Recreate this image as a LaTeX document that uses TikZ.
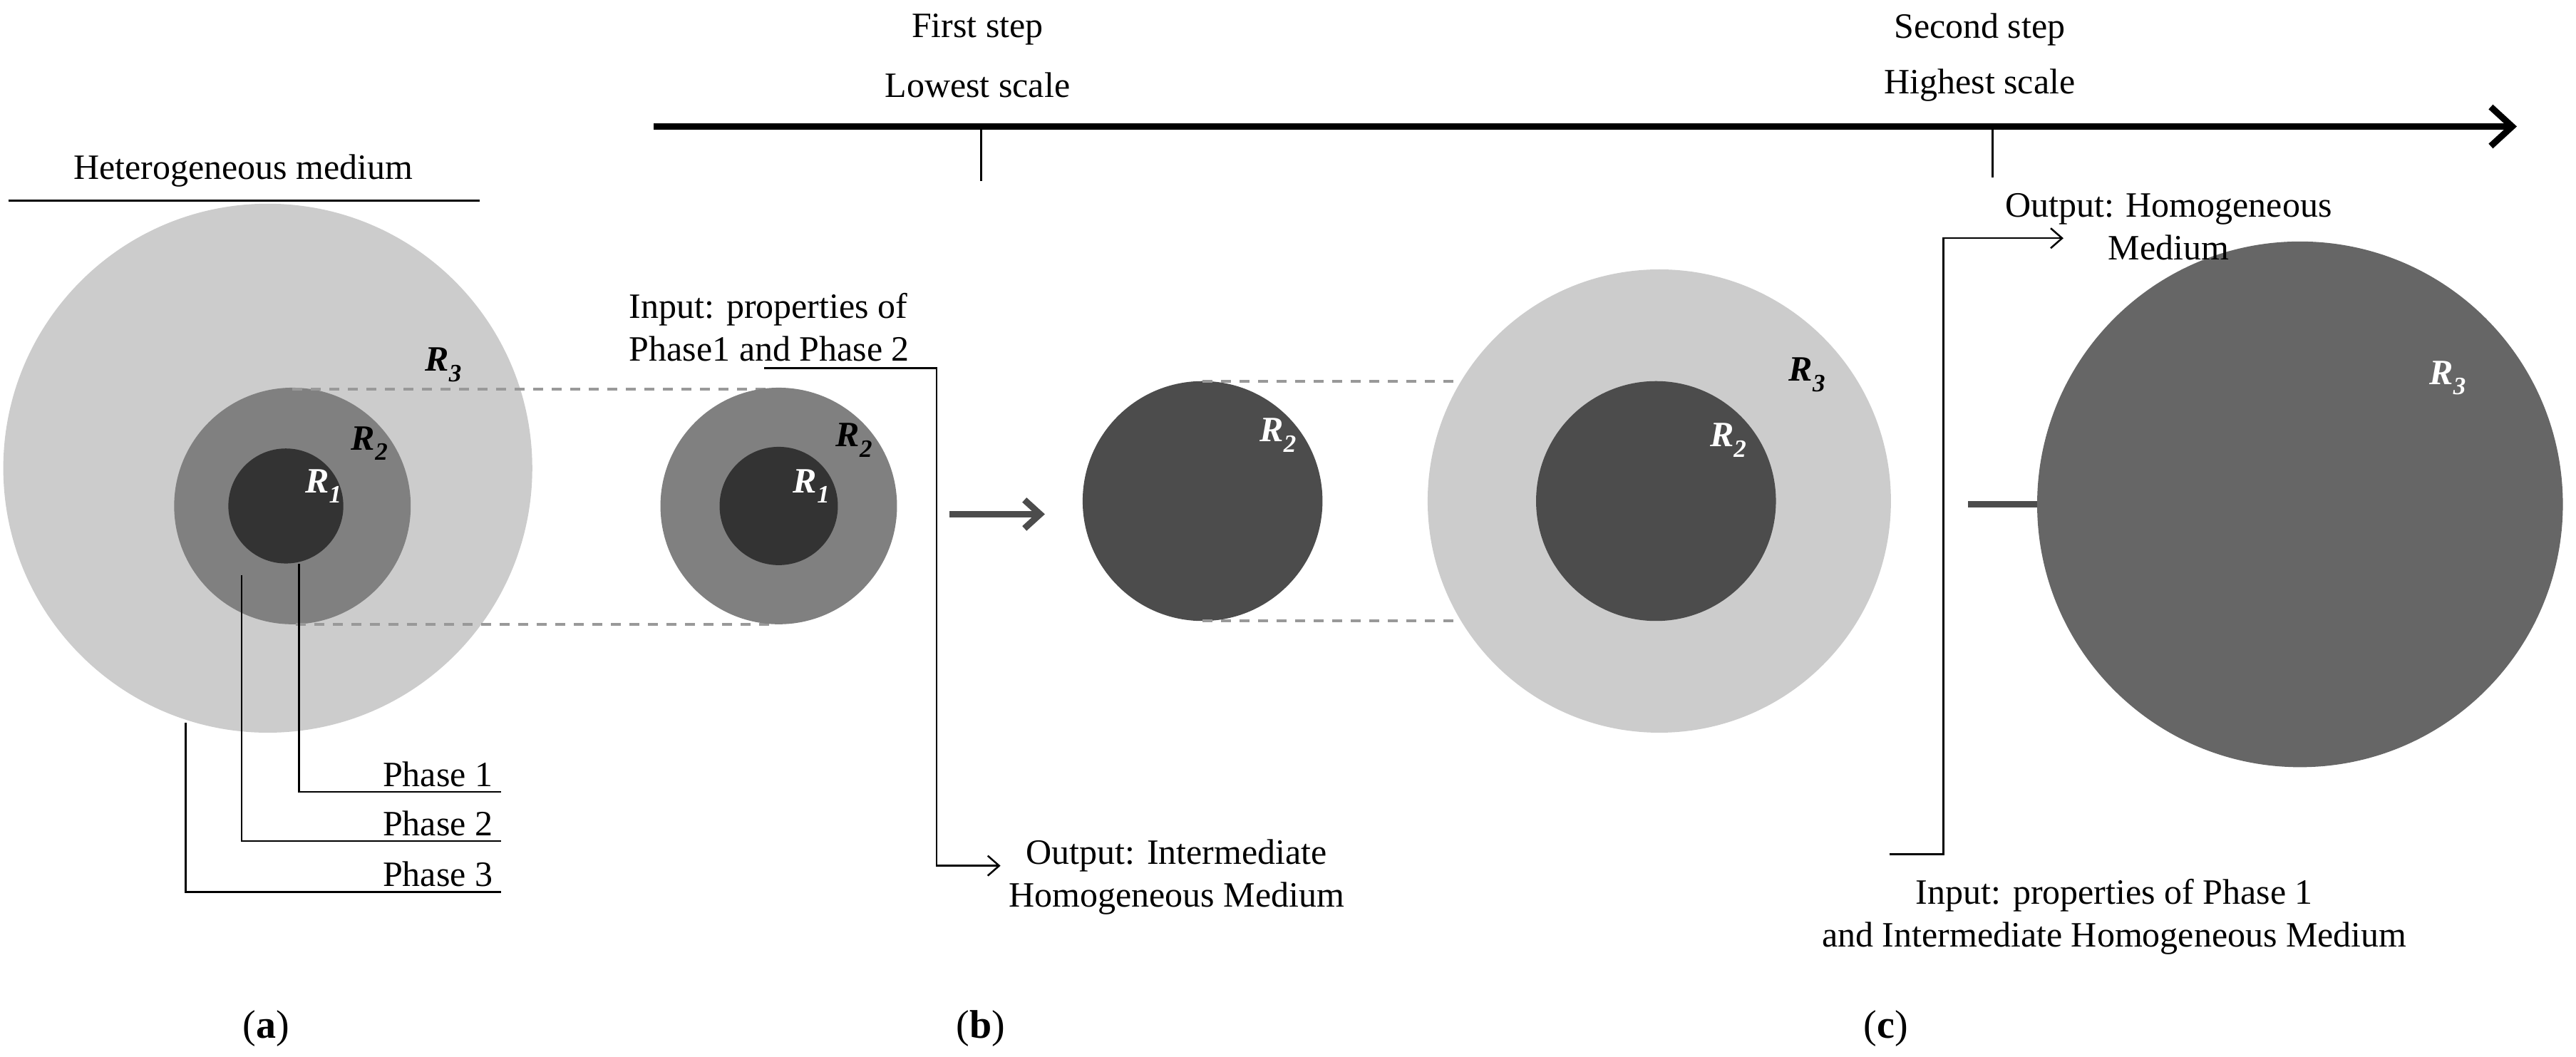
\documentclass[tikz,border=0pt]{standalone}
\usepackage{fontspec}
\setmainfont{Liberation Serif}
\usetikzlibrary{arrows.meta}
\begin{document}
\begin{tikzpicture}[x=2.305pt,y=-2.305pt,
  txt/.style={font=\fontsize{50}{60}\selectfont,inner sep=0pt,align=center},
  rl/.style={font=\fontsize{50}{60}\selectfont\bfseries\itshape,inner sep=0pt},
  dsh/.style={draw=black!40,line width=4pt,dash pattern=on 14pt off 12pt},
  conn/.style={draw=black,line width=2.5pt},
  bigar/.style={draw=black!70,line width=9pt,-{Straight Barb[length=22pt,width=40pt]}}]
\useasboundingbox (0,0) rectangle (1568,643);
% axis
\draw[line width=9pt,-{Straight Barb[length=30pt,width=55pt,line width=9pt]}] (398,77) -- (1532,77);
\coordinate (t1) at (597,77); \coordinate (t1b) at (597,110);
\coordinate (t2) at (1213,77); \coordinate (t2b) at (1213,108);
\draw[line width=3pt] (t1) -- (t1b); \draw[line width=3pt] (t2) -- (t2b);
\node[txt] (fs) at (595,18) {First step};
\node[txt] (ls) at (595,52) {Lowest scale};
\node[txt] (ss) at (1205,18) {Second step};
\node[txt] (hs) at (1205,52) {Highest scale};
% (a)
\node[txt] (het) at (148,104) {Heterogeneous medium};
\draw[line width=3pt] (5,122) -- (292,122);
\fill[black!20] (163,285) circle (161);
\fill[black!50] (178,308) circle (72);
\fill[black!80] (174,308) circle (35);
\node[rl] (r3a) at (270,222) {R\textsubscript{3}};
\node[rl] (r2a) at (225,270) {R\textsubscript{2}};
\node[rl,white] (r1a) at (197,296) {R\textsubscript{1}};
\draw[dsh] (178,237) -- (470,237);
\draw[dsh] (180,380) -- (470,380);
% phase legends
\node[txt,anchor=south east] (p1) at (300,479) {Phase 1};
\node[txt,anchor=south east] (p2) at (300,509) {Phase 2};
\node[txt,anchor=south east] (p3) at (300,540) {Phase 3};
\draw[conn] (182,343) -- (182,482) -- (305,482);
\draw[conn] (147,350) -- (147,512) -- (305,512);
\draw[conn] (113,440) -- (113,543) -- (305,543);
% (b)
\fill[black!50] (474,308) circle (72);
\fill[black!80] (474,308) circle (36);
\node[rl] (r2b) at (520,268) {R\textsubscript{2}};
\node[rl,white] (r1b) at (494,296) {R\textsubscript{1}};
\node[txt,align=left,anchor=west] (inb) at (383,199) {Input: properties of\\Phase1 and Phase 2};
\node[txt,anchor=west] (outb) at (614,534) {Output: Intermediate\\Homogeneous Medium};
\draw[conn,-{Straight Barb[length=16pt,width=28pt,line width=2.5pt]}] (465,224) -- (570,224) -- (570,527) -- (609,527);
\draw[bigar] (578,313) -- (636,313);
\fill[black!70] (732,305) circle (73);
\node[rl,white] (r2c) at (778,265) {R\textsubscript{2}};
\draw[dsh] (732,232) -- (1008,232);
\draw[dsh] (732,378) -- (1008,378);
% (c)
\fill[black!20] (1010,305) circle (141);
\fill[black!70] (1008,305) circle (73);
\node[rl] (r3c) at (1100,228) {R\textsubscript{3}};
\node[rl,white] (r2d) at (1052,268) {R\textsubscript{2}};
\draw[bigar] (1198,307) -- (1256,307);
\fill[black!60] (1400,307) circle (160);
\node[rl,white] (r3d) at (1490,230) {R\textsubscript{3}};
\node[txt] (outc) at (1320,138) {Output: Homogeneous\\Medium};
\node[txt] (inc) at (1287,558) {Input: properties of Phase 1\\and Intermediate Homogeneous Medium};
\draw[conn,-{Straight Barb[length=16pt,width=28pt,line width=2.5pt]}] (1150,520) -- (1183,520) -- (1183,145) -- (1256,145);
% captions
\node[txt,font=\fontsize{56}{60}\selectfont] (ca) at (162,626) {(\textbf{a})};
\node[txt,font=\fontsize{56}{60}\selectfont] (cb) at (597,626) {(\textbf{b})};
\node[txt,font=\fontsize{56}{60}\selectfont] (cc) at (1148,626) {(\textbf{c})};
\end{tikzpicture}
\end{document}
